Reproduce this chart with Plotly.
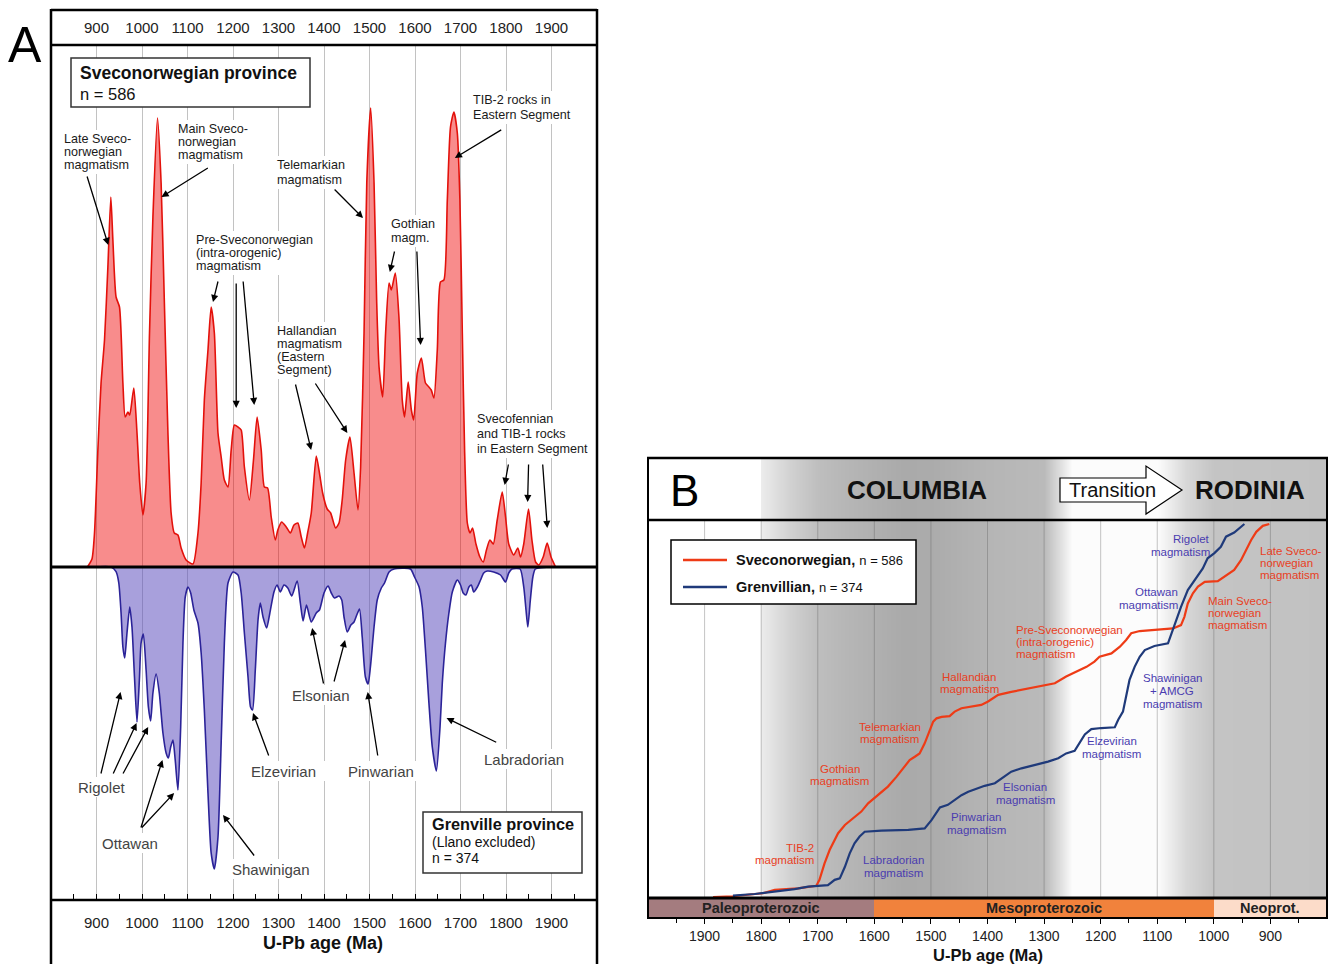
import plotly.graph_objects as go

W, H = 1329, 964
FONT = "Liberation Sans, Arial, sans-serif"

# ---------------- Panel A data: probability density (arbitrary units) ----------------
red_age = [880, 890, 895.6, 903, 910, 917.6, 925, 931.5, 936, 943,
           950.5, 958, 963, 969, 973, 982, 989, 995, 1002, 1009,
           1016.5, 1024, 1034, 1042, 1049, 1057, 1064, 1071, 1079, 1086,
           1097, 1112, 1123, 1130, 1137, 1145, 1152, 1159, 1167, 1174,
           1181, 1189, 1196, 1203, 1211, 1218, 1225, 1236, 1245, 1253,
           1262, 1269, 1276, 1284, 1293, 1298.5, 1307, 1317, 1326, 1334,
           1342.5, 1350, 1357, 1364, 1372, 1383, 1390, 1397, 1407, 1414.6,
           1425.6, 1433, 1440, 1447.6, 1457, 1466, 1474.7, 1480.5, 1488, 1494,
           1502.5, 1510, 1515.7, 1521, 1529, 1535.4, 1543, 1548, 1556.7, 1564.7,
           1572, 1577, 1585, 1592, 1597, 1605, 1614, 1623, 1630.6, 1635.7,
           1641.6, 1649, 1656, 1663.5, 1671, 1678, 1685.5, 1693, 1698.7, 1704,
           1709, 1715, 1721, 1726.5, 1734, 1742.6, 1750, 1757, 1764.6, 1772,
           1780.7, 1791.7, 1799, 1806, 1817, 1826, 1832, 1839, 1849.5, 1857,
           1865, 1872, 1881.7, 1890.5, 1899, 1909]
red_val = [0, 8, 34, 117, 184, 227, 300, 370, 327, 270,
           260, 184, 150, 155, 152, 179, 134, 84, 52, 84,
           234, 350, 449, 384, 267, 134, 54, 34, 32, 19,
           7, 3, 34, 84, 167, 217, 260, 234, 134, 110,
           87, 80, 117, 142, 140, 137, 100, 67, 107, 150,
           117, 80, 79, 50, 27, 37, 45, 40, 34, 42,
           44, 30, 19, 34, 54, 111, 94, 74, 58, 54,
           39, 44, 67, 107, 130, 94, 57, 100, 234, 384,
           459, 384, 267, 200, 170, 234, 284, 277, 294, 250,
           167, 150, 185, 157, 147, 194, 209, 184, 180, 177,
           169, 217, 285, 287, 367, 440, 455, 434, 367, 234,
           117, 44, 34, 39, 23, 10, 5, 17, 27, 23,
           47, 75, 50, 23, 12, 19, 10, 23, 58, 27,
           5, 2, 10, 24, 10, 0]

blue_age = [895, 932, 943, 949, 954, 958, 962, 967, 973, 978,
            983.5, 989, 994.5, 998, 1003, 1009, 1014, 1019, 1024, 1031,
            1038, 1046, 1053, 1058, 1063, 1068, 1073, 1079, 1085, 1090,
            1095, 1101, 1107, 1114, 1123, 1130, 1137, 1145, 1152, 1159,
            1167, 1174, 1181, 1189, 1200, 1211, 1218, 1225, 1233, 1238.5,
            1243, 1249, 1255, 1260, 1266, 1274, 1281, 1290, 1297, 1304,
            1312, 1320.5, 1329, 1341, 1348, 1354, 1361.5, 1372, 1383, 1390,
            1400, 1409, 1416, 1423, 1433, 1439, 1444, 1451, 1459, 1466,
            1472, 1478, 1484, 1491, 1497, 1502, 1510, 1517, 1526, 1533,
            1543, 1554, 1590, 1599, 1609, 1616, 1623, 1630.6, 1638, 1647,
            1655, 1660, 1667, 1674.5, 1682, 1693, 1700, 1706, 1712, 1718.5,
            1724, 1729, 1737, 1744, 1751, 1759, 1773, 1788, 1799, 1806,
            1813, 1831, 1839, 1844, 1848, 1853.5, 1859, 1864.5, 1905]
blue_dep = [0, 0, 4.7, 16, 46, 80, 91, 66, 40, 60,
            110, 155, 110, 76, 67, 103, 140, 154, 126, 107,
            126, 166, 186, 191, 180, 173, 193, 223, 160, 76,
            30, 20, 26, 43, 56, 86, 143, 226, 286, 302,
            270, 176, 76, 16, 5, 8, 26, 66, 110, 140,
            143, 103, 53, 36, 50, 61, 46, 25, 18, 25,
            18, 21, 29, 14, 36, 54, 38, 55, 46, 43,
            26, 19, 26, 31, 29, 33, 50, 65, 58, 55,
            48, 42, 70, 110, 117, 100, 60, 33, 21, 16,
            5, 2, 2, 10, 20, 40, 83, 136, 180, 204,
            160, 116, 76, 46, 25, 13, 18, 26, 28, 20,
            18, 25, 20, 13, 6, 4, 5, 8, 15, 6,
            2, 2, 20, 43, 60, 33, 10, 2, 0]

ticksA = [900, 1000, 1100, 1200, 1300, 1400, 1500, 1600, 1700, 1800, 1900]
minorA = [850, 950, 1050, 1150, 1250, 1350, 1450, 1550, 1650, 1750, 1850, 1950]

# ---------------- Panel B data: cumulative fraction ----------------
sv_age = [1885, 1850, 1797, 1776, 1735, 1702.5, 1697, 1688, 1679, 1673,
          1664, 1652, 1638, 1623, 1611, 1593, 1576, 1561, 1546, 1537.6,
          1528.5, 1520, 1511, 1502, 1496, 1490, 1481, 1467, 1458, 1446,
          1428, 1411, 1399, 1381, 1358, 1328, 1305, 1281, 1261, 1243,
          1225, 1211, 1202, 1181, 1166, 1155, 1146, 1131, 1105, 1072,
          1058, 1052, 1046, 1037, 1028, 1016, 993, 981, 964, 952,
          943, 934, 925, 913.5, 902]
sv_cum = [0, 0.002, 0.01, 0.019, 0.023, 0.03, 0.046, 0.09, 0.126, 0.144,
          0.171, 0.193, 0.211, 0.229, 0.251, 0.273, 0.296, 0.322, 0.349, 0.367,
          0.376, 0.385, 0.412, 0.448, 0.470, 0.479, 0.483, 0.485, 0.497, 0.506,
          0.510, 0.515, 0.524, 0.542, 0.550, 0.559, 0.564, 0.573, 0.591, 0.604,
          0.617, 0.631, 0.644, 0.653, 0.671, 0.689, 0.707, 0.713, 0.716, 0.720,
          0.729, 0.751, 0.787, 0.814, 0.832, 0.845, 0.847, 0.859, 0.877, 0.903,
          0.930, 0.957, 0.979, 0.995, 1.0]

gr_age = [1848, 1848, 1811.5, 1776, 1741, 1717, 1699.5, 1682, 1670, 1661,
          1652, 1643.5, 1635, 1626, 1617, 1587.5, 1540, 1511, 1499, 1484,
          1470, 1458, 1446, 1434, 1419.5, 1405, 1387, 1372, 1358, 1340,
          1316.5, 1293, 1275, 1261, 1246, 1237, 1228, 1216.5, 1199, 1175,
          1169, 1160.6, 1155, 1149, 1140, 1131, 1122, 1105, 1081, 1075,
          1066.5, 1058, 1046, 1031, 1019.5, 1011, 999, 987.6, 978.5, 964,
          952, 946]
gr_cum = [0, 0.004, 0.008, 0.014, 0.021, 0.028, 0.029, 0.032, 0.046, 0.050,
          0.081, 0.117, 0.144, 0.162, 0.175, 0.178, 0.180, 0.184, 0.206, 0.240,
          0.247, 0.260, 0.273, 0.282, 0.291, 0.298, 0.305, 0.322, 0.336, 0.345,
          0.354, 0.363, 0.372, 0.385, 0.392, 0.416, 0.436, 0.450, 0.453, 0.455,
          0.475, 0.497, 0.537, 0.582, 0.617, 0.644, 0.662, 0.673, 0.680, 0.707,
          0.743, 0.778, 0.823, 0.854, 0.881, 0.908, 0.922, 0.939, 0.966, 0.977,
          0.993, 1.0]

ticksB = [900, 1000, 1100, 1200, 1300, 1400, 1500, 1600, 1700, 1800, 1900]
minorB = [850, 950, 1050, 1150, 1250, 1350, 1450, 1550, 1650, 1750, 1850, 1950]

# background shading (supercontinent cycle), gray level per age
grad_age = [2000, 1800.5, 1800, 1750, 1700, 1650, 1600, 1550, 1500, 1450,
            1400, 1300, 1270, 1250, 1100, 1090, 1050, 1000, 800]
grad_gray = [255, 255, 236, 210, 190, 182, 176, 170, 171, 176,
             181, 186, 225, 252, 252, 245, 215, 196, 193]

era_names = ["Paleoproterozoic", "Mesoproterozoic", "Neoprot."]
era_old = [2000, 1600, 1000]
era_young = [1600, 1000, 800]
era_colors = ["#A47C7F", "#F1823C", "#FCDCC9"]

RED_A_LINE, RED_A_FILL = "#E3110B", "rgba(240,0,0,0.45)"
BLUE_A_LINE, BLUE_A_FILL = "#2B2398", "rgba(97,82,191,0.55)"
RED_B, BLUE_B = "#EE3B16", "#1F3A7A"
RED_TXT, BLUE_TXT = "#E8401F", "#4A3CB0"

MA_PER_PX_A = 1200 / 546.0   # panel A: x range 800-2000 over 546 px


def px(x):
    return x / W


def py(y):
    return 1 - y / H


fig = go.Figure()

# ---------------- Panel A traces ----------------
fig.add_trace(go.Scatter(x=red_age, y=red_val, mode="lines",
                         line=dict(color=RED_A_LINE, width=1.6, shape="spline", smoothing=0.6),
                         fill="tozeroy", fillcolor=RED_A_FILL,
                         xaxis="x", yaxis="y", hoverinfo="skip", showlegend=False))
fig.add_trace(go.Scatter(x=blue_age, y=[-d for d in blue_dep], mode="lines",
                         line=dict(color=BLUE_A_LINE, width=1.6, shape="spline", smoothing=0.6),
                         fill="tozeroy", fillcolor=BLUE_A_FILL,
                         xaxis="x", yaxis="y", hoverinfo="skip", showlegend=False))
# invisible helper so the top tick axis is drawn
fig.add_trace(go.Scatter(x=red_age, y=red_val, mode="lines", opacity=0,
                         line=dict(width=0), xaxis="x2", yaxis="y",
                         hoverinfo="skip", showlegend=False))

# ---------------- Panel B traces ----------------
fig.add_trace(go.Heatmap(x=grad_age, y=[-0.01, 1.02], z=[grad_gray, grad_gray],
                         zmin=0, zmax=255, zsmooth="best", showscale=False,
                         colorscale=[[0, "rgb(0,0,0)"], [1, "rgb(255,255,255)"]],
                         xaxis="x3", yaxis="y3", hoverinfo="skip"))
fig.add_trace(go.Heatmap(x=grad_age, y=[0, 1], z=[grad_gray, grad_gray],
                         zmin=0, zmax=255, zsmooth="best", showscale=False,
                         colorscale=[[0, "rgb(0,0,0)"], [1, "rgb(255,255,255)"]],
                         xaxis="x4", yaxis="y4", hoverinfo="skip"))
gx, gy = [], []
for t in ticksB:
    gx += [t, t, None]
    gy += [-0.01, 1.02, None]
fig.add_trace(go.Scatter(x=gx, y=gy, mode="lines",
                         line=dict(color="rgba(90,90,90,0.35)", width=1),
                         xaxis="x3", yaxis="y3", hoverinfo="skip", showlegend=False))
fig.add_trace(go.Scatter(x=sv_age, y=sv_cum, mode="lines",
                         line=dict(color=RED_B, width=2.2),
                         xaxis="x3", yaxis="y3", hoverinfo="skip", showlegend=False))
fig.add_trace(go.Scatter(x=gr_age, y=gr_cum, mode="lines",
                         line=dict(color=BLUE_B, width=2.2),
                         xaxis="x3", yaxis="y3", hoverinfo="skip", showlegend=False))
fig.add_trace(go.Bar(y=[0] * len(era_names), x=[o - y for o, y in zip(era_old, era_young)],
                     base=era_young, orientation="h", width=1,
                     marker=dict(color=era_colors, line=dict(width=0)),
                     xaxis="x5", yaxis="y5", hoverinfo="skip", showlegend=False))

# ---------------- Layout ----------------
tickfont = dict(family=FONT, size=15, color="#222")
fig.update_layout(
    width=W, height=H, margin=dict(l=0, r=0, t=0, b=0),
    paper_bgcolor="white", plot_bgcolor="rgba(0,0,0,0)",
    font=dict(family=FONT), bargap=0,
    xaxis=dict(domain=[px(51), px(597)], range=[800, 2000], anchor="y",
               tickmode="array", tickvals=ticksA, ticktext=[str(t) for t in ticksA],
               showgrid=True, gridcolor="#c2c2c2", gridwidth=1, zeroline=False,
               ticks="inside", ticklen=6, tickcolor="black", tickwidth=1.2,
               tickfont=tickfont, ticklabelstandoff=12, showline=False,
               minor=dict(tickvals=minorA, ticks="inside", ticklen=6,
                          tickcolor="black", showgrid=False)),
    xaxis2=dict(overlaying="x", matches="x", side="top", anchor="y",
                tickmode="array", tickvals=ticksA, ticktext=[str(t) for t in ticksA],
                showgrid=False, zeroline=False, ticks="", tickfont=tickfont,
                ticklabelstandoff=8, showline=False),
    yaxis=dict(domain=[py(900), py(45)], range=[-333, 522], visible=False),
    xaxis3=dict(domain=[px(648), px(1327)], range=[2000, 800], anchor="y3",
                showticklabels=False, showgrid=False, zeroline=False, ticks=""),
    yaxis3=dict(domain=[py(898), py(520)], range=[-0.00268, 1.0107], visible=False),
    xaxis4=dict(domain=[px(648), px(1327)], matches="x3", anchor="y4", visible=False),
    yaxis4=dict(domain=[py(520), py(458)], range=[0, 1], visible=False),
    xaxis5=dict(domain=[px(648), px(1327)], matches="x3", anchor="y5",
                tickmode="array", tickvals=ticksB, ticktext=[str(t) for t in ticksB],
                showgrid=False, zeroline=False, ticks="outside", ticklen=5,
                tickcolor="black", tickfont=dict(family=FONT, size=14, color="#222"),
                showline=False,
                minor=dict(tickvals=minorB, ticks="outside", ticklen=4, tickcolor="black")),
    yaxis5=dict(domain=[py(918), py(898)], range=[-0.5, 0.5], visible=False),
)

shapes = []
ann = []


def hline(x0, x1, y, w=2.5):
    shapes.append(dict(type="line", xref="paper", yref="paper", x0=px(x0), x1=px(x1),
                       y0=py(y), y1=py(y), line=dict(color="black", width=w), layer="above"))


def vline(x, y0, y1, w=2.5):
    shapes.append(dict(type="line", xref="paper", yref="paper", x0=px(x), x1=px(x),
                       y0=py(y0), y1=py(y1), line=dict(color="black", width=w), layer="above"))


def white_box(x0, x1, y0, y1):
    shapes.append(dict(type="rect", xref="x", yref="y", x0=x0, x1=min(x1, 2000), y0=y0, y1=y1,
                       fillcolor="white", line=dict(width=0), layer="above"))


def text(x, y, t, size, color="#111", xref="paper", yref="paper", xanchor="center",
         yanchor="middle", yshift=0):
    ann.append(dict(x=x, y=y, xref=xref, yref=yref, text=t, showarrow=False,
                    xanchor=xanchor, yanchor=yanchor, yshift=yshift,
                    bgcolor="rgba(0,0,0,0)", borderpad=0,
                    font=dict(family=FONT, size=size, color=color)))


def lines(ls, x, y, xanchor, pitch, size, color, xref, yref):
    for i, t in enumerate(ls):
        text(x, y, t, size, color, xref, yref, xanchor, "middle", -i * pitch)


def arrow(hx, hy, tx, ty):
    ann.append(dict(x=hx, y=hy, ax=tx, ay=ty, xref="x", yref="y", axref="x", ayref="y",
                    text="", showarrow=True, arrowhead=2, arrowsize=1.1, arrowwidth=1.3,
                    arrowcolor="black", standoff=0, startstandoff=0))


# ---------------- Panel A labels (white boxes first so frames stay on top) ----------------
upper = [
    (["Late Sveco-", "norwegian", "magmatism"], 825.6, 428, 13),
    (["Main Sveco-", "norwegian", "magmatism"], 1077.9, 438, 13),
    (["Telemarkian", "magmatism"], 1295, 402, 15),
    (["TIB-2 rocks in", "Eastern Segment"], 1724.8, 467, 15),
    (["Pre-Sveconorwegian", "(intra-orogenic)", "magmatism"], 1117.3, 327, 13),
    (["Hallandian", "magmatism", "(Eastern", "Segment)"], 1295, 236, 13),
    (["Gothian", "magm."], 1545, 343, 14),
    (["Svecofennian", "and TIB-1 rocks", "in Eastern Segment"], 1733.6, 148, 15),
]
UP_SIZE = 12.6
for ls, x, y, p in upper:
    wpx = max(len(s) for s in ls) * UP_SIZE * 0.53
    white_box(x - 3 * MA_PER_PX_A, x + (wpx + 3) * MA_PER_PX_A,
              y - (len(ls) - 1) * p - 9, y + 9)
    lines(ls, x, y, "left", p, UP_SIZE, "#1a1a1a", "x", "y")

lower = [("Rigolet", 911.4, -220), ("Ottawan", 972.6, -276), ("Shawinigan", 1284, -302),
         ("Elzevirian", 1310.3, -204), ("Elsonian", 1393.6, -128), ("Pinwarian", 1525, -204),
         ("Labradorian", 1838.6, -192)]
for t, x, y in lower:
    half = (len(t) * 15 * 0.52 / 2 + 3) * MA_PER_PX_A
    white_box(x - half, x + half, y - 10, y + 10)
    text(x, y, t, 15, "#444", "x", "y", "center", "middle")

# ---------------- Frames ----------------
# panel A frame
vline(51, 9, 964)
vline(597, 9, 964)
hline(51, 597, 10)
hline(51, 597, 45)
hline(51, 597, 900)
# zero line between the two provinces
shapes.append(dict(type="line", xref="x domain", yref="y", x0=0, x1=1, y0=0, y1=0,
                   line=dict(color="black", width=3), layer="above"))
# legend boxes panel A
shapes.append(dict(type="rect", xref="paper", yref="paper", x0=px(71), x1=px(310),
                   y0=py(107), y1=py(58), line=dict(color="#333", width=1.5),
                   fillcolor="white", layer="above"))
shapes.append(dict(type="rect", xref="paper", yref="paper", x0=px(423), x1=px(582),
                   y0=py(873), y1=py(812), line=dict(color="#333", width=1.5),
                   fillcolor="white", layer="above"))

# panel B frame
vline(648, 457, 919, 2)
vline(1327, 457, 919, 2)
hline(647, 1328, 458, 2.5)
hline(647, 1328, 520, 2.5)
hline(647, 1328, 898, 3)
hline(647, 1328, 918, 2)
# legend box panel B
shapes.append(dict(type="rect", xref="paper", yref="paper", x0=px(671), x1=px(916),
                   y0=py(604), y1=py(540), line=dict(color="black", width=1.5),
                   fillcolor="white", layer="above"))
shapes.append(dict(type="line", xref="paper", yref="paper", x0=px(683), x1=px(727),
                   y0=py(560), y1=py(560), line=dict(color=RED_B, width=2.5), layer="above"))
shapes.append(dict(type="line", xref="paper", yref="paper", x0=px(683), x1=px(727),
                   y0=py(587), y1=py(587), line=dict(color=BLUE_B, width=2.5), layer="above"))
# transition block arrow
pts = [(1060, 478), (1146, 478), (1146, 466), (1182, 490), (1146, 514), (1146, 502), (1060, 502)]
path = "M " + " L ".join(f"{px(a):.5f},{py(b):.5f}" for a, b in pts) + " Z"
shapes.append(dict(type="path", xref="paper", yref="paper", path=path,
                   fillcolor="white", line=dict(color="black", width=1.2), layer="above"))
fig.update_layout(shapes=shapes)

# ---------------- Other text ----------------
text(px(25), py(45), "A", 50, "black")
text(px(684), py(490), "B", 44, "black")
text(px(323), py(943), "<b>U-Pb age (Ma)</b>", 18, "#111")
text(px(988), py(955), "<b>U-Pb age (Ma)</b>", 16.5, "#111")

text(px(917), py(490), "<b>COLUMBIA</b>", 26, "#111")
text(px(1250), py(490), "<b>RODINIA</b>", 26, "#111")
text(px(1112), py(490), "Transition", 20, "#111")

text(860.7, 494, "<b>Sveconorwegian province</b>", 17.5, "#111", "x", "y", "left")
text(860.7, 473, "n = 586", 16.5, "#111", "x", "y", "left")
text(1634.8, -257, "<b>Grenville province</b>", 16.3, "#111", "x", "y", "left")
text(1634.8, -275, "(Llano excluded)", 14, "#111", "x", "y", "left")
text(1634.8, -291, "n = 374", 14, "#111", "x", "y", "left")

arrows = [
    (925.9, 322, 878.3, 392), (1042.8, 370, 1148, 400), (1485.8, 349, 1420, 379),
    (1687.5, 409, 1792.8, 438),
    (1156, 265, 1167.8, 287), (1207, 159, 1207, 285), (1246.7, 162, 1222, 287),
    (1371.7, 117, 1336.6, 184), (1451.3, 134, 1378.9, 185),
    (1544.7, 295, 1555.7, 317), (1612.3, 222, 1604, 317),
    (1797, 82, 1805.9, 104), (1847.5, 65, 1849.7, 104), (1890.8, 39, 1880.4, 104),
    (952.9, -125, 909, -208), (988, -156, 935.3, -208), (1013.6, -160, 956.6, -208),
    (1045, -193, 996.7, -262), (1070.6, -226, 996.7, -262),
    (1178, -248, 1249, -290), (1243.9, -146, 1279.6, -190),
    (1373.9, -61, 1399.6, -118), (1446.3, -73, 1421.3, -116),
    (1496, -125, 1518.6, -190), (1669.3, -151, 1781.8, -176),
]
for a in arrows:
    arrow(*a)

# panel B labels
red_labels = [
    (["TIB-2", "magmatism"], 1705.1, 0.1305, "right"),
    (["Gothian", "magmatism"], 1661.3, 0.3424, "center"),
    (["Telemarkian", "magmatism"], 1572.7, 0.4566, "center"),
    (["Hallandian", "magmatism"], 1432.2, 0.5898, "center"),
    (["Pre-Sveconorwegian", "(intra-orogenic)", "magmatism"], 1351.3, 0.7158, "left"),
    (["Main Sveco-", "norwegian", "magmatism"], 1011.8, 0.7936, "left"),
    (["Late Sveco-", "norwegian", "magmatism"], 920.2, 0.9284, "left"),
]
for ls, x, y, anc in red_labels:
    lines(ls, x, y, anc, 12, 11.5, RED_TXT, "x3", "y3")
blue_labels = [
    (["Labradorian", "magmatism"], 1566.9, 0.0992, "center"),
    (["Pinwarian", "magmatism"], 1419.1, 0.2153, "center"),
    (["Elsonian", "magmatism"], 1333, 0.2957, "center"),
    (["Elzevirian", "magmatism"], 1180.1, 0.4182, "center"),
    (["Shawinigan", "+ AMCG", "magmatism"], 1073.8, 0.5863, "center"),
    (["Ottawan", "magmatism"], 1061.9, 0.8185, "right"),
    (["Rigolet", "magmatism"], 1005.8, 0.9598, "right"),
]
for ls, x, y, anc in blue_labels:
    lines(ls, x, y, anc, 13, 11.5, BLUE_TXT, "x3", "y3")

# legend text panel B
text(px(735), py(560), "<b>Sveconorwegian,</b> <span style='font-size:13px'>n = 586</span>",
     14.5, "#111", xanchor="left")
text(px(735), py(587), "<b>Grenvillian,</b> <span style='font-size:13px'>n = 374</span>",
     14.5, "#111", xanchor="left")

# era names
for name, o, yg in zip(era_names, era_old, era_young):
    text((o + yg) / 2, 0, f"<b>{name}</b>", 14.5, "#222", "x5", "y5")

fig.update_layout(annotations=ann)
fig.write_html("out.html", config={"displayModeBar": False},
               post_script="document.body.style.margin='0px';document.body.style.padding='0px';")
